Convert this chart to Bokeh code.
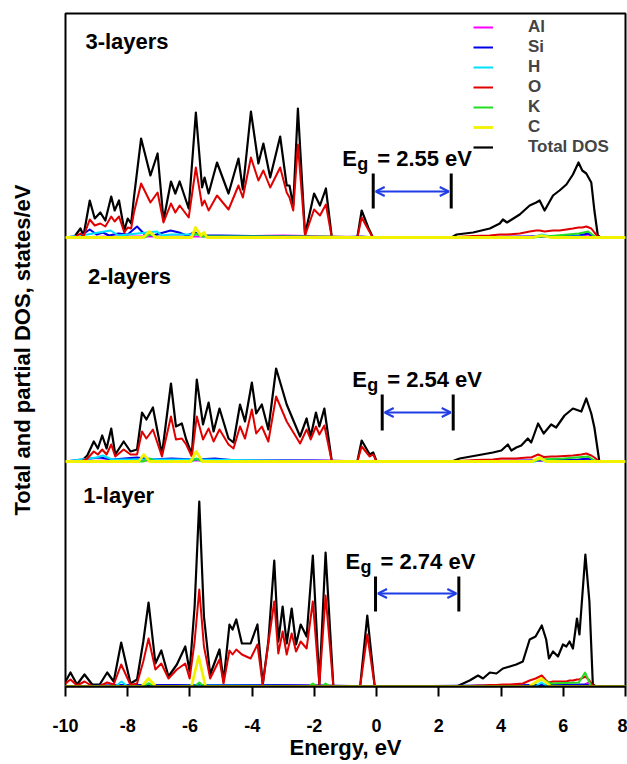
from bokeh.plotting import figure
from bokeh.models import Range1d, FixedTicker, Legend, LegendItem, Arrow, OpenHead
from bokeh.core.properties import value
from bokeh.embed import file_html
from bokeh.resources import INLINE

FONT = "Liberation Sans"

# ---------------- data ----------------
x_ticks = [-10, -8, -6, -4, -2, 0, 2, 4, 6, 8]
x_tick_labels = ["-10", "-8", "-6", "-4", "-2", "0", "2", "4", "6", "8"]

species = ["Al", "Si", "H", "O", "K", "C", "Total DOS"]
panel_names = ["1-layer", "2-layers", "3-layers"]
gap_values = ["2.74", "2.54", "2.55"]

# 3-layers: total DOS and O partial DOS
e_3 = [-10.0, -9.73, -9.52, -9.42, -9.22, -9.06, -8.88, -8.72, -8.53, -8.42, -8.28, -8.11, -8.00, -7.89,
       -7.80, -7.57, -7.27, -7.04, -6.85, -6.61, -6.47, -6.33, -6.04, -5.81, -5.61, -5.53, -5.40, -5.13,
       -4.76, -4.44, -4.30, -4.04, -3.80, -3.64, -3.42, -3.10, -2.89, -2.80, -2.68, -2.53, -2.30, -2.01,
       -1.82, -1.63, -1.44, -0.62, -0.48, -0.27, -0.12, 2.41, 2.57, 3.10, 3.64, 3.96, 4.06, 4.19, 4.60,
       4.92, 5.13, 5.24, 5.40, 5.67, 5.88, 6.10, 6.31, 6.49, 6.61, 6.74, 6.90, 7.00, 7.11, 7.20, 8.0]
tot_3 = [0, 0, 9, 2, 37, 19, 25, 17, 41, 27, 37, 7, 19, 14, 40, 99, 62, 84, 17, 56, 44, 56, 29, 125, 50,
         60, 44, 75, 44, 79, 48, 126, 74, 94, 60, 101, 52, 52, 32, 129, 3, 44, 32, 49, 0, 0, 27, 10, 0, 0,
         3, 5, 9, 14, 18, 15, 23, 32, 35, 37, 27, 42, 47, 53, 63, 75, 67, 64, 55, 27, 2, 0, 0]
o_3 = [0, 0, 4, 1, 18, 12, 14, 11, 21, 16, 21, 5, 10, 9, 25, 54, 35, 45, 15, 34, 25, 32, 20, 70, 32,
       37, 27, 42, 28, 52, 40, 80, 57, 67, 50, 70, 45, 40, 27, 93, 2, 28, 22, 33, 0, 0, 20, 8, 0, 0,
       0.5, 1.5, 2, 3, 3, 3, 4, 6, 7, 7, 6, 7, 7, 8, 9, 10, 10, 11, 9, 5, 1, 0, 0]
al_e_3 = [-10, -8.5, -5.0, -3.0, -1.5, 0, 6.5, 6.8, 7.05, 8]
al_3 = [0, 1, 1, 2, 1, 0, 1, 3, 0, 0]
si_e_3 = [-10, -9.5, -9.22, -9.0, -8.8, -8.6, -8.3, -8.0, -7.7, -7.45, -7.2, -6.85, -6.62, -6.35, -6.1,
          -5.85, -5.6, -5.0, -4.0, -2.5, -1.44, -0.5, 0, 2.5, 5.0, 6.5, 6.8, 7.05, 8]
si_3 = [0, 2, 8, 3, 5, 2, 4, 3, 11, 3, 2, 5, 7, 5, 2, 5, 2, 2, 1.5, 1, 0, 1, 0, 0, 1, 2, 4, 0, 0]
h_e_3 = [-10, -9.3, -8.55, -8.3, -7.06, -6.9, -6.6, -5.8, -5.5, -2.0, 0, 5.0, 5.3, 5.6, 6.5, 7.05, 8]
h_3 = [0, 3, 7, 2, 6, 2, 3, 3, 1, 0.5, 0, 0, 3, 1, 1, 0, 0]
k_e_3 = [-10, -7.45, -7.3, -7.0, -5.95, -5.82, -5.6, -1.7, 0, 5.0, 5.8, 6.5, 6.8, 7.05, 8]
k_3 = [0, 0, 3, 0.5, 0.5, 4, 1, 1, 0, 0, 2, 4, 6, 0, 0]
c_e_3 = [-10, -7.5, -7.3, -7.1, -5.95, -5.82, -5.65, -5.55, -5.45, 5.0, 5.3, 5.6, 8]
c_3 = [0, 0, 6, 0, 0, 10, 2, 5, 0, 0, 2, 0, 0]

# 2-layers
e_2 = [-10.0, -9.50, -9.30, -9.09, -8.96, -8.82, -8.68, -8.53, -8.40, -8.13, -7.91, -7.70, -7.54, -7.40,
       -7.19, -6.90, -6.61, -6.45, -6.26, -6.12, -5.94, -5.78, -5.58, -5.40, -5.24, -5.05, -4.76, -4.60,
       -4.39, -4.23, -4.01, -3.87, -3.69, -3.48, -3.23, -2.89, -2.46, -2.25, -2.12, -1.95, -1.84, -1.68,
       -1.44, -0.62, -0.48, -0.22, -0.11, 0.00, 2.41, 2.67, 3.21, 3.74, 4.01, 4.22, 4.33, 4.49, 4.65,
       4.86, 4.97, 5.19, 5.37, 5.61, 5.77, 6.04, 6.31, 6.58, 6.74, 6.90, 7.00, 7.16, 8.0]
tot_2 = [0, 0, 6, 20, 13, 26, 13, 33, 7, 20, 10, 12, 49, 42, 54, 7, 78, 35, 38, 22, 7, 82, 37, 59, 30,
         53, 23, 19, 57, 40, 79, 48, 57, 32, 93, 57, 25, 43, 25, 49, 35, 53, 0, 0, 21, 7, 9, 0, 0, 3,
         6, 9, 11, 17, 11, 14, 16, 23, 19, 38, 28, 37, 34, 46, 53, 50, 63, 48, 34, 0, 0]
o_2 = [0, 0, 3, 10, 7, 12, 7, 17, 5, 12, 7, 7, 30, 23, 32, 5, 45, 22, 23, 17, 5, 45, 22, 33, 20,
       32, 17, 13, 35, 23, 52, 28, 35, 20, 65, 40, 18, 32, 22, 35, 27, 36, 0, 0, 15, 5, 7, 0, 0, 0.5,
       1.5, 2, 3, 3, 3, 3, 3.5, 4, 4, 7, 4.5, 5, 5, 5.5, 6, 7, 8, 6, 4, 0, 0]
al_e_2 = [-10, -8.5, -5.0, -3.0, 0, 6.5, 6.8, 7.05, 8]
al_2 = [0, 1, 1, 1.5, 0, 1, 2, 0, 0]
si_e_2 = [-10, -9.2, -8.9, -8.5, -7.7, -7.2, -6.6, -5.8, -5.2, -4.5, -2.0, 0, 5.0, 6.5, 6.8, 7.05, 8]
si_2 = [0, 3, 4, 2, 4, 2, 3, 2, 3, 1, 1, 0, 1, 2, 3, 0, 0]
h_e_2 = [-10, -9.0, -8.8, -8.5, -5.8, 0, 5.1, 5.24, 5.4, 8]
h_2 = [0, 4, 6, 2, 2, 0, 0, 3, 0, 0]
k_e_2 = [-10, -7.5, -7.3, -7.1, -5.95, -5.8, -5.6, 0, 5.0, 5.24, 6.0, 6.8, 7.05, 8]
k_2 = [0, 0, 3, 0, 0, 3, 0, 0, 0, 2, 3, 5, 0, 0]
c_e_2 = [-10, -7.65, -7.48, -7.3, -5.98, -5.8, -5.6, 5.0, 5.24, 5.45, 8]
c_2 = [0, 0, 7, 0, 0, 10, 0, 0, 4, 0, 0]

# 1-layer
e_1 = [-10.0, -9.84, -9.63, -9.39, -9.14, -8.90, -8.66, -8.45, -8.21, -7.91, -7.70, -7.50, -7.33, -7.11,
       -6.92, -6.69, -6.42, -6.15, -6.01, -5.85, -5.70, -5.55, -5.35, -5.05, -4.92, -4.73, -4.63, -4.51,
       -4.33, -4.05, -3.83, -3.66, -3.48, -3.29, -3.16, -3.02, -2.89, -2.73, -2.59, -2.44, -2.25, -2.05,
       -1.84, -1.64, -1.39, -0.53, -0.30, -0.06, 2.57, 2.99, 3.26, 3.42, 3.64, 3.85, 4.06, 4.28, 4.49,
       4.70, 4.92, 5.11, 5.31, 5.45, 5.54, 5.67, 5.83, 5.99, 6.10, 6.20, 6.31, 6.44, 6.52, 6.71, 6.84,
       6.95, 7.05, 8.0]
tot_1 = [5, 14, 2, 12, 2, 2, 14, 5, 44, 3, 7, 45, 84, 23, 36, 10, 22, 40, 15, 80, 185, 70, 12, 37, 5,
         62, 57, 67, 43, 43, 62, 2, 45, 126, 45, 80, 43, 78, 42, 62, 50, 131, 2, 134, 0, 0, 71, 0, 0, 6,
         11, 8, 14, 13, 18, 20, 22, 25, 47, 50, 61, 47, 28, 35, 30, 42, 40, 45, 38, 68, 52, 132, 85, 2, 0, 0]
o_1 = [3, 7, 1, 5, 0.5, 0.5, 4, 2, 22, 1.5, 3, 25, 48, 17, 23, 8, 17, 23, 8, 45, 97, 40, 8, 27, 3,
       36, 32, 37, 32, 28, 42, 2, 43, 85, 33, 55, 32, 53, 35, 45, 38, 85, 2, 91, 0, 0, 52, 0, 0, 0.5,
       1, 1, 1.5, 1.5, 2, 2, 2.5, 3, 6, 8, 11, 6, 4, 5, 5, 5, 5, 6, 6, 7, 7, 10, 6, 1, 0, 0]
al_e_1 = [-10, -6.0, -3.0, 0, 6.6, 6.8, 6.95, 8]
al_1 = [0, 1, 1, 0, 0, 4, 0, 0]
si_e_1 = [-10, -8.2, -5.7, -3.3, -1.64, 0, 6.7, 7.0, 8]
si_1 = [0, 1.5, 1.5, 1.5, 1, 0, 2, 0, 0]
h_e_1 = [-10, -8.4, -8.2, -8.0, -7.5, -7.33, -7.15, -5.7, 0, 5.1, 5.3, 5.5, 8]
h_1 = [0, 0, 5, 0, 0, 3, 0, 1, 0, 0, 4, 0, 0]
k_e_1 = [-10, -7.5, -7.33, -7.15, -5.85, -5.7, -5.55, -2.2, -2.05, -1.9, -1.75, -1.64, -1.5, 4.9, 5.3,
         5.6, 6.5, 6.7, 6.9, 8]
k_1 = [0, 0, 3, 0, 0, 4, 0, 0, 3, 0, 0, 3, 0, 0, 7, 3, 4, 14, 0, 0]
c_e_1 = [-10, -7.55, -7.33, -7.1, -5.95, -5.72, -5.5, 4.9, 5.3, 5.6, 8]
c_1 = [0, 0, 8, 0, 0, 30, 0, 0, 8, 0, 0]

# band-gap markers (energy of VBM / CBM bars) per panel (1-layer, 2-layers, 3-layers)
gap_lo = [-0.035, 0.18, -0.109]
gap_hi = [2.643, 2.462, 2.398]

# ---------------- layout / style ----------------
panel_base = [0, 225, 449]          # vertical offset of each panel
label_y = [191, 185, 196]           # panel-name baseline above panel base
label_x = [-9.43, -9.28, -9.36]
eg_x = [-1.0, -0.784, -1.106]
eg_y = [125, 82, 79]
bar_y0 = [75, 31, 29]
bar_y1 = [110, 67, 64]
arrow_y = [93, 49, 46]

colors = {"Al": "#ff00ff", "Si": "#0000e6", "H": "#00e0ff", "O": "#e00000",
          "K": "#22dd22", "C": "#f2f200", "Total DOS": "#000000"}

p = figure(width=627, height=764, x_range=Range1d(-10, 8), y_range=Range1d(0, 673),
           output_backend="svg", toolbar_location=None,
           min_border_left=65, min_border_right=2, min_border_top=13, min_border_bottom=78)
p.xgrid.visible = False
p.ygrid.visible = False
p.outline_line_color = "black"
p.outline_line_width = 2
p.background_fill_color = "white"
p.border_fill_color = "white"

panels = [
    (e_1, tot_1, o_1, al_e_1, al_1, si_e_1, si_1, h_e_1, h_1, k_e_1, k_1, c_e_1, c_1),
    (e_2, tot_2, o_2, al_e_2, al_2, si_e_2, si_2, h_e_2, h_2, k_e_2, k_2, c_e_2, c_2),
    (e_3, tot_3, o_3, al_e_3, al_3, si_e_3, si_3, h_e_3, h_3, k_e_3, k_3, c_e_3, c_3),
]

legend_renderers = {}
for i, (e, tot, o, ale, al, sie, si, he, h, ke, k, ce, c) in enumerate(panels):
    b = panel_base[i]
    sh = lambda arr: [v + b for v in arr]
    r_tot = p.line(e, sh(tot), line_color=colors["Total DOS"], line_width=2.2, line_join="round")
    r_al = p.line(ale, sh(al), line_color=colors["Al"], line_width=2, line_join="round")
    r_si = p.line(sie, sh(si), line_color=colors["Si"], line_width=2, line_join="round")
    r_h = p.line(he, sh(h), line_color=colors["H"], line_width=2, line_join="round")
    r_o = p.line(e, sh(o), line_color=colors["O"], line_width=2, line_join="round")
    r_k = p.line(ke, sh(k), line_color=colors["K"], line_width=2, line_join="round")
    r_c = p.line(ce, sh(c), line_color=colors["C"], line_width=2.8, line_join="round")
    if i == 2:
        legend_renderers = {"Al": r_al, "Si": r_si, "H": r_h, "O": r_o, "K": r_k, "C": r_c,
                            "Total DOS": r_tot}

    # panel name
    p.text(x=[label_x[i]], y=[b + label_y[i]], text=[panel_names[i]], text_font=value(FONT),
           text_font_style="bold", text_font_size="22px", text_color="black",
           text_align="left", text_baseline="alphabetic")
    # E_g label
    p.text(x=[eg_x[i]], y=[b + eg_y[i]], text=["E"], text_font=value(FONT),
           text_font_style="bold", text_font_size="22px", text_align="left", text_baseline="alphabetic")
    p.text(x=[eg_x[i]], y=[b + eg_y[i] - 5], text=["g"], x_offset=15, text_font=value(FONT),
           text_font_style="bold", text_font_size="18px", text_align="left", text_baseline="alphabetic")
    p.text(x=[eg_x[i]], y=[b + eg_y[i]], text=["= " + gap_values[i] + " eV"], x_offset=35,
           text_font=value(FONT), text_font_style="bold", text_font_size="22px",
           text_align="left", text_baseline="alphabetic")
    # gap bars
    p.segment(x0=[gap_lo[i], gap_hi[i]], x1=[gap_lo[i], gap_hi[i]],
              y0=[b + bar_y0[i]] * 2, y1=[b + bar_y1[i]] * 2, line_color="black", line_width=3)
    p.add_layout(Arrow(start=OpenHead(size=9, line_color="#1f3de6", line_width=2),
                       end=OpenHead(size=9, line_color="#1f3de6", line_width=2),
                       x_start=gap_lo[i] + 0.08, x_end=gap_hi[i] - 0.08,
                       y_start=b + arrow_y[i], y_end=b + arrow_y[i],
                       line_color="#1f3de6", line_width=2))

legend = Legend(items=[LegendItem(label=s, renderers=[legend_renderers[s]]) for s in species],
                location=(408, 529), orientation="vertical", glyph_width=20, glyph_height=20,
                label_height=20, label_standoff=35, spacing=0, padding=0, margin=0,
                border_line_color=None, background_fill_alpha=0,
                label_text_font=FONT, label_text_font_style="bold", label_text_font_size="17px",
                label_text_baseline="middle")
p.add_layout(legend)

# axes
p.xaxis.ticker = FixedTicker(ticks=x_ticks, minor_ticks=[])
p.xaxis.major_label_overrides = {t: l for t, l in zip(x_ticks, x_tick_labels)}
p.xaxis.major_tick_in = 0
p.xaxis.major_tick_out = 10
p.xaxis.major_tick_line_width = 2
p.xaxis.minor_tick_line_color = None
p.xaxis.axis_line_width = 2
p.xaxis.major_label_standoff = 22
p.xaxis.major_label_text_font = FONT
p.xaxis.major_label_text_font_style = "bold"
p.xaxis.major_label_text_font_size = "18px"
p.xaxis.major_label_text_color = "black"
p.xaxis.axis_label = "Energy, eV"
p.xaxis.axis_label_standoff = 0
p.xaxis.axis_label_text_font = FONT
p.xaxis.axis_label_text_font_style = "bold"
p.xaxis.axis_label_text_font_size = "22px"
p.xaxis.axis_label_text_color = "black"

p.yaxis.ticker = FixedTicker(ticks=[], minor_ticks=[])
p.yaxis.axis_line_color = None
p.yaxis.major_tick_line_color = None
p.yaxis.minor_tick_line_color = None
p.yaxis.major_label_text_font_size = "0px"
p.yaxis.axis_label = "Total and partial DOS, states/eV"
p.yaxis.axis_label_standoff = 31
p.yaxis.axis_label_text_font = FONT
p.yaxis.axis_label_text_font_style = "bold"
p.yaxis.axis_label_text_font_size = "22px"
p.yaxis.axis_label_text_color = "black"

open("out.html", "w").write(file_html(p, INLINE))
